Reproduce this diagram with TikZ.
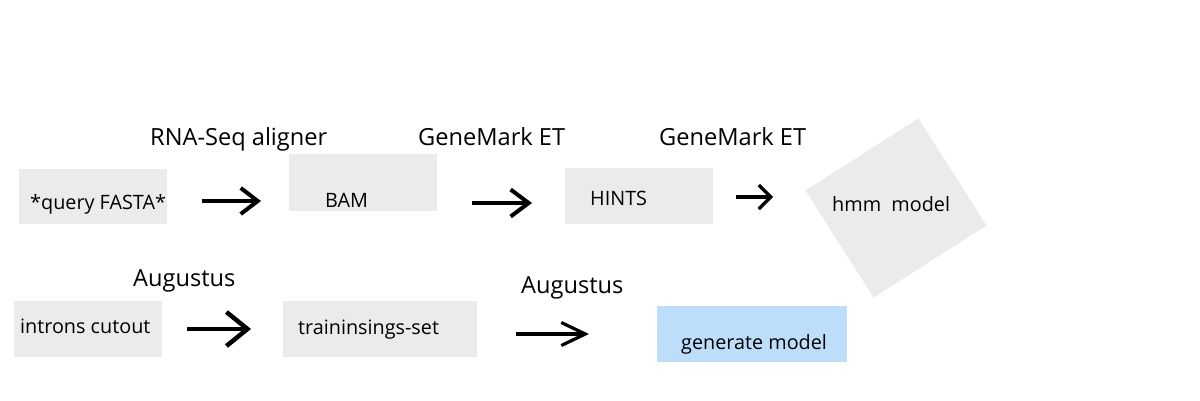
\documentclass[tikz,border=0pt]{standalone}
\usepackage{fontspec}
\setmainfont{Open Sans}
\usetikzlibrary{arrows.meta}
\definecolor{boxgray}{RGB}{235,235,235}
\definecolor{boxblue}{RGB}{189,222,251}
\tikzset{
  box/.style={fill=boxgray, draw=none, inner sep=0pt, anchor=north west},
  bluebox/.style={fill=boxblue, draw=none, inner sep=0pt, anchor=north west},
  boxtext/.style={inner sep=0pt, anchor=base west, font=\fontsize{19.8}{22}\selectfont},
  tooltext/.style={inner sep=0pt, anchor=base west, font=\fontsize{23.6}{26}\selectfont},
  flow/.style={line width=4pt},
  head/.style n args={2}{-{Straight Barb[length=#1pt,width=#2pt]}}
}
\begin{document}
\begin{tikzpicture}[x=1pt,y=-1pt]
\useasboundingbox (0,0) rectangle (1200,400);
% boxes
\node[box, minimum width=148pt, minimum height=55pt] (fasta) at (19,169) {};
\node[box, minimum width=148pt, minimum height=57pt] (bam) at (289,154) {};
\node[box, minimum width=148pt, minimum height=56pt] (hints) at (565,168) {};
\node[fill=boxgray, inner sep=0pt, minimum width=134pt, minimum height=127pt, rotate=32.5] (hmm) at (896,208) {};
\node[box, minimum width=148pt, minimum height=56pt] (introns) at (14,301) {};
\node[box, minimum width=194pt, minimum height=56pt] (train) at (283,301) {};
\node[bluebox, minimum width=190pt, minimum height=56pt] (gen) at (657,306) {};
% box texts
\node[boxtext] (tfasta) at (30,209) {*query FASTA*};
\node[boxtext] (tbam) at (325,207) {BAM};
\node[boxtext] (thints) at (590,205) {HINTS};
\node[boxtext] (thmm) at (832,211) {hmm\ \ model};
\node[boxtext] (tintrons) at (20,333) {introns cutout};
\node[boxtext] (ttrain) at (298,334) {traininsings-set};
\node[boxtext] (tgen) at (681,349) {generate model};
% tool labels
\node[tooltext] (l1) at (150,145) {RNA-Seq aligner};
\node[tooltext] (l2) at (418,145) {GeneMark ET};
\node[tooltext] (l3) at (659,145) {GeneMark ET};
\node[tooltext] (l4) at (133,286) {Augustus};
\node[tooltext] (l5) at (521,293) {Augustus};
% arrows
\coordinate (a1s) at (202,201); \coordinate (a1e) at (261,201);
\coordinate (a2s) at (472,203); \coordinate (a2e) at (532,203);
\coordinate (a3s) at (736,197); \coordinate (a3e) at (773,197);
\coordinate (a4s) at (187,329); \coordinate (a4e) at (251,329);
\coordinate (a5s) at (516,334); \coordinate (a5e) at (589,334);
\draw[flow, head={17}{26}] (a1s) -- (a1e);
\draw[flow, head={18}{27}] (a2s) -- (a2e);
\draw[flow, line width=3.2pt, head={12}{24}] (a3s) -- (a3e);
\draw[flow, line width=4.5pt, head={21}{34}] (a4s) -- (a4e);
\draw[flow, line width=3.2pt, head={24}{23}] (a5s) -- (a5e);
\end{tikzpicture}
\end{document}
